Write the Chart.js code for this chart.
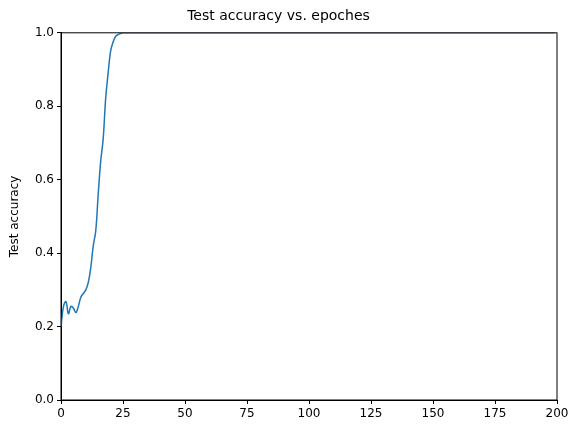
<!DOCTYPE html>
<html>
<head>
<script src="https://cdn.jsdelivr.net/npm/chart.js@4/dist/chart.umd.min.js"></script>
<style>body{margin:0;background:#fff}</style>
</head>
<body>
<canvas id="c" width="580" height="435"></canvas>
<script>
const epochs = [0,1,2,3,4,5,6,7,8,9,10,11,12,13,14,15,16,17,18,19,20,21,22,23,24,25,199];
const accuracy = [0.20,0.255,0.268,0.235,0.255,0.25,0.238,0.255,0.28,0.29,0.30,0.32,0.36,0.42,0.46,0.56,0.65,0.71,0.82,0.89,0.95,0.975,0.99,0.995,0.998,1.0,1.0];
const xTicks = [0,25,50,75,100,125,150,175,200];

const frame = {
    id: 'frame',
    afterDraw(chart) {
        const a = chart.chartArea, ctx = chart.ctx;
        ctx.save();
        ctx.strokeStyle = '#000';
        ctx.lineWidth = 1;
        ctx.strokeRect(a.left, a.top, a.right - a.left, a.bottom - a.top);
        ctx.restore();
    }
};

const tickFont = { family: 'DejaVu Sans', size: 12 };
new Chart(document.getElementById('c').getContext('2d'), {
    type: 'line',
    data: {
        datasets: [{
            data: epochs.map((e, i) => ({ x: e, y: accuracy[i] })),
            borderColor: '#1f77b4',
            borderWidth: 1.5,
            pointRadius: 0,
            tension: 0.4,
            fill: false
        }]
    },
    options: {
        responsive: false,
        animation: false,
        layout: { padding: { left: 0, right: 23, top: 0, bottom: 0 } },
        plugins: {
            legend: { display: false },
            tooltip: { enabled: false },
            title: {
                display: true,
                text: 'Test accuracy vs. epoches',
                color: '#000',
                font: { family: 'DejaVu Sans', size: 14, weight: 'normal' },
                padding: { top: 8, bottom: 8 }
            }
        },
        scales: {
            x: {
                type: 'linear', min: 0, max: 200,
                afterBuildTicks: s => { s.ticks = xTicks.map(v => ({ value: v })); },
                afterFit: s => { s.height = 35; },
                grid: { drawOnChartArea: false, tickLength: 4, color: '#000' },
                border: { color: '#000' },
                ticks: { color: '#000', font: tickFont, maxRotation: 0 }
            },
            y: {
                min: 0, max: 1,
                afterFit: s => { s.width = 61; },
                grid: { drawOnChartArea: false, tickLength: 4, color: '#000' },
                border: { color: '#000' },
                title: { display: true, text: 'Test accuracy', color: '#000', font: tickFont, padding: { top: 8, bottom: 2 } },
                ticks: { color: '#000', font: tickFont, stepSize: 0.2, callback: v => v.toFixed(1) }
            }
        }
    },
    plugins: [frame]
});
</script>
</body>
</html>
